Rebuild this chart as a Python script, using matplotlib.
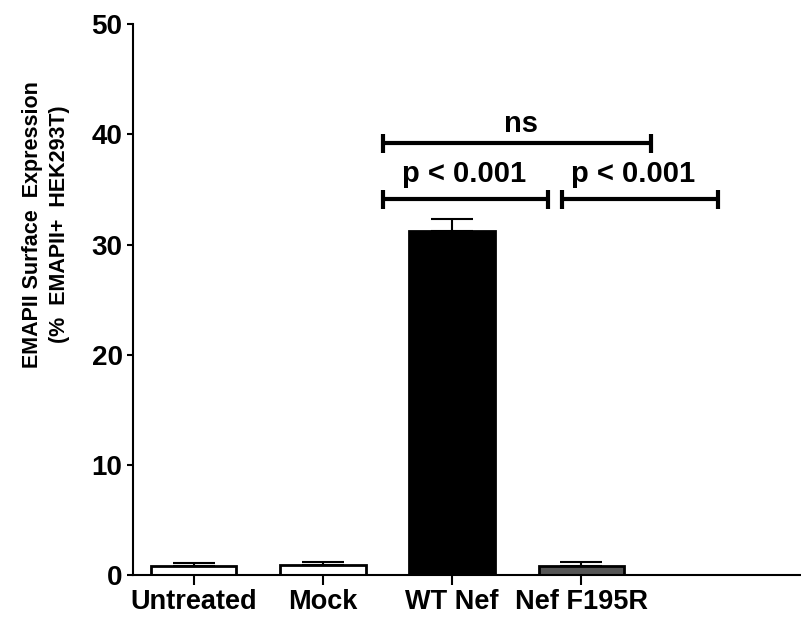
import matplotlib.pyplot as plt

categories = ['Untreated', 'Mock', 'WT Nef', 'Nef F195R']
means = [0.8, 0.9, 31.2, 0.8]
errors = [0.3, 0.3, 1.1, 0.35]
colors = ['white', 'white', 'black', '#555555']

plt.rcParams['font.family'] = ['Liberation Sans', 'DejaVu Sans']
plt.rcParams['font.weight'] = 'bold'

fig = plt.figure(figsize=(8.01, 6.19), dpi=100)
ax = fig.add_axes([0.166, 0.071, 0.834, 0.89])

x = range(len(categories))
ax.bar(x, means, width=0.66, color=colors, edgecolor='black', linewidth=2,
       yerr=[[0] * 4, errors], error_kw=dict(ecolor='black', elinewidth=1.5,
                                            capsize=15, capthick=1.5))

# significance brackets
def bracket(x1, x2, y, label, lx, gap):
    ax.plot([x1, x2], [y, y], color='black', lw=3, solid_capstyle='butt', clip_on=False)
    for xx in (x1, x2):
        ax.plot([xx, xx], [y - 0.85, y + 0.85], color='black', lw=3,
                solid_capstyle='butt', clip_on=False)
    ax.text(lx, y + gap, label, ha='center', va='baseline',
            fontsize=21, fontweight='bold')

bracket(1.465, 3.54, 39.2, 'ns', 2.53, 1.0)
bracket(1.465, 2.74, 34.1, 'p < 0.001', 2.09, 1.55)
bracket(2.85, 4.06, 34.1, 'p < 0.001', 3.40, 1.55)

ax.set_xlim(-0.47, 4.7)
ax.set_ylim(0, 50)
ax.set_yticks([0, 10, 20, 30, 40, 50])
ax.set_xticks(list(x))
ax.set_xticklabels(categories, fontsize=19.5, fontweight='bold')
ax.tick_params(axis='y', labelsize=20, width=1.5, length=4.5, direction='out', pad=3)
ax.tick_params(axis='x', width=1.5, length=7, direction='out', pad=3)
for lab in ax.get_yticklabels():
    lab.set_fontweight('bold')

ax.spines['top'].set_visible(False)
ax.spines['right'].set_visible(False)
ax.spines['left'].set_linewidth(1.5)
ax.spines['bottom'].set_linewidth(1.5)

ax.set_ylabel('EMAPII Surface  Expression\n(%  EMAPII+  HEK293T)',
              fontsize=15.5, fontweight='bold', linespacing=1.4)
ax.yaxis.set_label_coords(-0.094, 0.637)

fig.savefig('out.png', dpi=100)
